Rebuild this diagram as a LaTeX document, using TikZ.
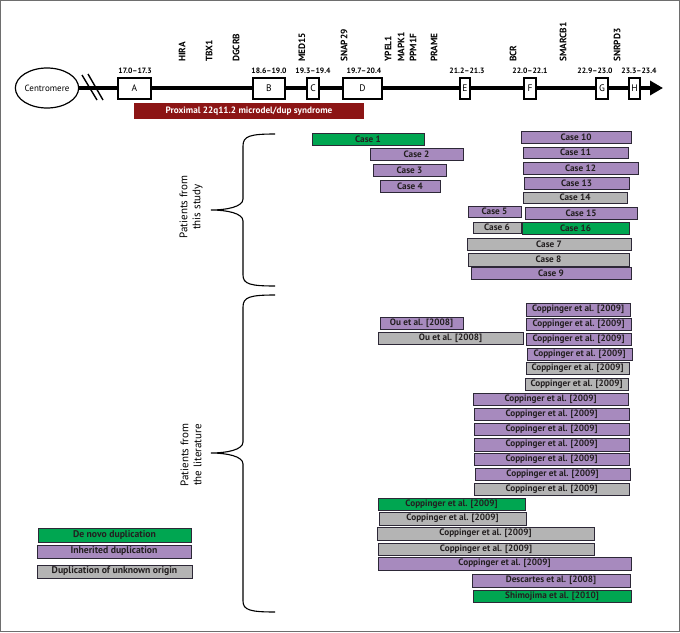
\documentclass[tikz,border=0pt]{standalone}
\usepackage{fontspec}
\setmainfont{PT Sans}
\usetikzlibrary{arrows.meta,shapes.geometric}
\definecolor{dgreen}{RGB}{0,166,81}
\definecolor{dpurple}{RGB}{167,138,190}
\definecolor{dgray}{RGB}{180,180,180}
\definecolor{dred}{RGB}{140,21,21}
\definecolor{edgec}{RGB}{45,40,55}
\definecolor{txt}{RGB}{35,31,32}
\definecolor{framec}{RGB}{110,110,110}
\newcommand\dupbar[7]{\node[#2, minimum width={(#5)-(#3)}, minimum height={(#6)-(#4)}] (#1) at ({((#3)+(#5))/2},{((#4)+(#6))/2}) {#7};}
\tikzset{
  barbase/.style={draw=edgec, line width=0.9pt, inner sep=0pt, text=txt, font=\fontsize{9.2}{9}\selectfont\bfseries},
  gbar/.style={barbase, fill=dgreen},
  pbar/.style={barbase, fill=dpurple},
  ybar/.style={barbase, fill=dgray},
  legbar/.style={font=\fontsize{9.7}{10}\selectfont\bfseries},
  chrbox/.style={draw, fill=white, line width=1.1pt, minimum height=21, inner sep=0pt, font=\fontsize{9.5}{10}\selectfont},
  numlab/.style={font=\fontsize{7.7}{8}\selectfont\bfseries, inner sep=0pt},
  genelab/.style={rotate=90, anchor=west, inner sep=0pt, font=\fontsize{9.3}{10}\selectfont\bfseries},
  sidelab/.style={rotate=90, align=center, inner sep=0pt, font=\fontsize{11}{13}\selectfont},
  bracec/.style={line width=1.1pt, draw=black}
}
\begin{document}
\begin{tikzpicture}[x=1pt,y=-1pt]
\useasboundingbox (0,0) rectangle (680,632);
\draw[framec, line width=1.2pt] (0.6,0.6) rectangle (679.4,631.4);
% chromosome
\node[ellipse, draw, line width=1.2pt, minimum width=58, minimum height=40, inner sep=0pt, font=\fontsize{9}{10}\selectfont] (cen) at (47,88) {Centromere};
\coordinate (tip) at (663,88);
\draw[line width=4.5pt, -{Triangle[length=13pt,width=14pt]}] (cen.east) -- (tip);
\coordinate (br1a) at (82,75); \coordinate (br1b) at (97,100);
\coordinate (br2a) at (88,74); \coordinate (br2b) at (103,100);
\draw[line width=1.4pt] (br1a) -- (br1b);
\draw[line width=1.4pt] (br2a) -- (br2b);
\node[chrbox, minimum width=33] (A) at (134.5,88.5) {A};
\node[chrbox, minimum width=32] (B) at (269,88.5) {B};
\node[chrbox, minimum width=12] (C) at (313,88.5) {C};
\node[chrbox, minimum width=39] (D) at (362.5,88.5) {D};
\node[chrbox, minimum width=10] (E) at (465,88.5) {E};
\node[chrbox, minimum width=12] (F) at (530,88.5) {F};
\node[chrbox, minimum width=12] (G) at (602,88.5) {G};
\node[chrbox, minimum width=11] (H) at (634.5,88.5) {H};
\node[numlab] (nA) at (135,71) {17.0–17.3};
\node[numlab] (nB) at (269,71) {18.6–19.0};
\node[numlab] (nC) at (313,71) {19.3–19.4};
\node[numlab] (nD) at (364,71) {19.7–20.4};
\node[numlab] (nE) at (467,71) {21.2–21.3};
\node[numlab] (nF) at (530,71) {22.0–22.1};
\node[numlab] (nG) at (595,71) {22.9–23.0};
\node[numlab] (nH) at (639,71) {23.3–23.4};
\node[genelab] (g1) at (182,62) {HIRA};
\node[genelab] (g2) at (209,62) {TBX1};
\node[genelab] (g3) at (236,62) {DGCRB};
\node[genelab] (g4) at (302,62) {MED15};
\node[genelab] (g5) at (344,62) {SNAP29};
\node[genelab] (g6) at (388,62) {YPEL1};
\node[genelab] (g7) at (401,62) {MAPK1};
\node[genelab] (g8) at (413,62) {PPM1F};
\node[genelab] (g9) at (434,62) {PRAME};
\node[genelab] (g10) at (513,62) {BCR};
\node[genelab] (g11) at (563,62) {SMARCB1};
\node[genelab] (g12) at (617,62) {SNRPD3};
\node[fill=dred, minimum width=230, minimum height=16, inner sep=0pt, text=white, font=\fontsize{9.2}{9}\selectfont\bfseries] (prox) at (249,111) {Proximal 22q11.2 microdel/dup syndrome};
% braces
\draw[bracec] (275,134) .. controls (250,134) and (243,136) .. (243,146) -- (243,199) .. controls (243,207) and (226,210) .. (211,210) .. controls (226,210) and (243,213) .. (243,221) -- (243,275) .. controls (243,284) and (250,286) .. (275,286);
\draw[bracec] (275,295) .. controls (250,295) and (243,297) .. (243,307) -- (243,442) .. controls (243,450) and (226,453) .. (211,453) .. controls (226,453) and (243,456) .. (243,464) -- (243,601) .. controls (243,610) and (250,612) .. (275,612);
\node[sidelab] (s1) at (191,207) {Patients from\\this study};
\node[sidelab] (s2) at (191,455) {Patients from\\the literature};
% cases
\dupbar{c1}{gbar}{312}{133}{424}{145}{Case 1}
\dupbar{c2}{pbar}{370}{148}{463}{160}{Case 2}
\dupbar{c3}{pbar}{373}{164}{446}{176}{Case 3}
\dupbar{c4}{pbar}{380}{180}{440}{192}{Case 4}
\dupbar{c10}{pbar}{521}{131}{631}{143}{Case 10}
\dupbar{c11}{pbar}{523}{147}{628}{158}{Case 11}
\dupbar{c12}{pbar}{523}{162}{638}{174}{Case 12}
\dupbar{c13}{pbar}{524}{177}{629}{189}{Case 13}
\dupbar{c14}{ybar}{523}{192}{627}{203}{Case 14}
\dupbar{c5}{pbar}{468}{206}{521}{217}{Case 5}
\dupbar{c15}{pbar}{525}{207}{637}{219}{Case 15}
\dupbar{c6}{ybar}{473}{222}{521}{233}{Case 6}
\dupbar{c16}{gbar}{522}{222}{629}{234}{Case 16}
\dupbar{c7}{ybar}{467}{238}{631}{250}{Case 7}
\dupbar{c8}{ybar}{468}{253}{629}{266}{Case 8}
\dupbar{c9}{pbar}{471}{267}{631}{279}{Case 9}
% literature
\dupbar{l1}{pbar}{526}{303}{630}{316}{Coppinger et al. [2009]}
\dupbar{ou1}{pbar}{380}{317}{463}{329}{Ou et al. [2008]}
\dupbar{l2}{pbar}{526}{318}{631}{330}{Coppinger et al. [2009]}
\dupbar{ou2}{ybar}{378}{332}{523}{344}{Ou et al. [2008]}
\dupbar{l3}{pbar}{526}{333}{631}{345}{Coppinger et al. [2009]}
\dupbar{l4}{pbar}{527}{348}{632}{360}{Coppinger et al. [2009]}
\dupbar{l5}{ybar}{526}{362}{629}{374}{Coppinger et al. [2009]}
\dupbar{l6}{ybar}{525}{378}{628}{390}{Coppinger et al. [2009]}
\dupbar{l7}{pbar}{473}{393}{628}{405}{Coppinger et al. [2009]}
\dupbar{l8}{pbar}{474}{408}{629}{420}{Coppinger et al. [2009]}
\dupbar{l9}{pbar}{474}{423}{629}{435}{Coppinger et al. [2009]}
\dupbar{l10}{pbar}{474}{438}{629}{451}{Coppinger et al. [2009]}
\dupbar{l11}{pbar}{474}{453}{629}{465}{Coppinger et al. [2009]}
\dupbar{l12}{pbar}{475}{468}{630}{480}{Coppinger et al. [2009]}
\dupbar{l13}{ybar}{474}{483}{629}{495}{Coppinger et al. [2009]}
\dupbar{l14}{gbar}{378}{498}{525}{510}{Coppinger et al. [2009]}
\dupbar{l15}{ybar}{379}{512}{526}{525}{Coppinger et al. [2009]}
\dupbar{l16}{ybar}{377}{527}{594}{540}{Coppinger et al. [2009]}
\dupbar{l17}{ybar}{378}{543}{594}{555}{Coppinger et al. [2009]}
\dupbar{l18}{pbar}{378}{557}{631}{570}{Coppinger et al. [2009]}
\dupbar{desc}{pbar}{472}{574}{630}{587}{Descartes et al. [2008]}
\dupbar{shim}{gbar}{473}{590}{631}{602}{Shimojima et al. [2010]}
% legend
\dupbar{lg1}{gbar,legbar}{38}{528}{191}{542}{De novo duplication}
\dupbar{lg2}{pbar,legbar}{37}{545}{191}{558}{Inherited duplication}
\dupbar{lg3}{ybar,legbar}{37}{565}{192}{578}{Duplication of unknown origin}
\end{tikzpicture}
\end{document}
